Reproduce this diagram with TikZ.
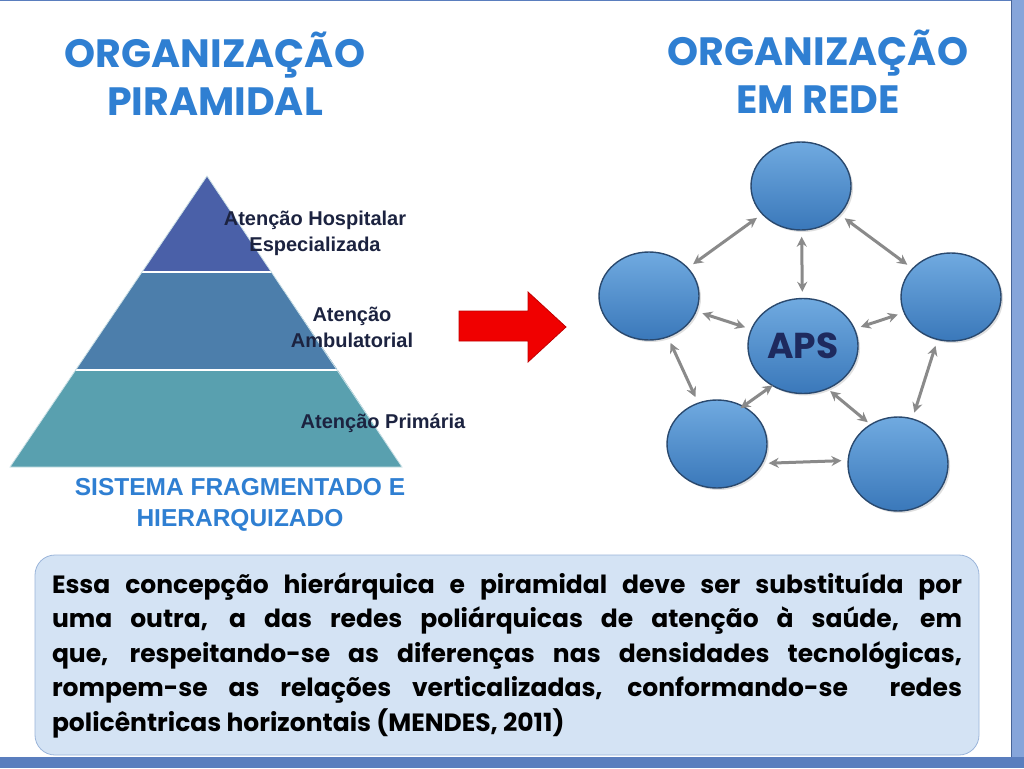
\documentclass[tikz,border=0pt]{standalone}
\usepackage{fontspec}
\setmainfont{Liberation Sans}
\newfontfamily\gothic{Poppins}
\usetikzlibrary{arrows.meta,shapes.geometric,shadows}
\definecolor{titleblue}{HTML}{2F7FD2}
\definecolor{pyrA}{HTML}{4A60A8}
\definecolor{pyrB}{HTML}{4C7EAB}
\definecolor{pyrC}{HTML}{59A0AF}
\definecolor{lblcol}{HTML}{1C2340}
\definecolor{ballTop}{HTML}{70AAE0}
\definecolor{ballBot}{HTML}{3A78BA}
\definecolor{ballEdge}{HTML}{2A496E}
\definecolor{netgray}{HTML}{8A8A8A}
\definecolor{boxfill}{HTML}{D4E3F4}
\definecolor{boxedge}{HTML}{9BB5DA}
\definecolor{apscol}{HTML}{1E2A5E}
\definecolor{stripR}{HTML}{86A5DA}
\definecolor{stripB}{HTML}{5A7EBE}
\definecolor{arrred}{HTML}{F00000}
\definecolor{arredge}{HTML}{C00000}
\tikzset{
  title/.style={font=\gothic\bfseries\fontsize{39.5}{48}\selectfont, text=titleblue, align=center},
  lvl/.style={font=\bfseries\fontsize{20}{26}\selectfont, text=lblcol, align=center, inner sep=0pt},
  ball/.style={ellipse, minimum width=100pt, minimum height=88pt, top color=ballTop, bottom color=ballBot,
     draw=ballEdge, line width=1.4pt, drop shadow={opacity=0.25, shadow xshift=2pt, shadow yshift=-2pt}},
  net/.style={draw=netgray, line width=3pt, {Stealth[length=10pt,width=10pt]}-{Stealth[length=10pt,width=10pt]}, shorten <=6pt, shorten >=6pt},
  band/.style={draw=white, line width=1.2pt},
  quotebox/.style={draw=boxedge, fill=boxfill, rounded corners=20pt, line width=0.8pt,
     minimum width=944pt, minimum height=200pt, text width=910pt, align=justify,
     font=\gothic\bfseries\fontsize{25}{34.5}\selectfont, text=black}
}
\begin{document}
\begin{tikzpicture}[x=1pt,y=-1pt]
\useasboundingbox (0,0) rectangle (1024,768);
\fill[white] (0,0) rectangle (1024,768);
% slide frame
\fill[stripR] (1011,0) rectangle (1024,768);
\draw[color=stripB!80!black, line width=1pt] (1011,0) -- (1011,757);
\fill[stripB] (0,757) rectangle (1024,768);
\draw[color=stripB, line width=1.5pt] (0,0.75) -- (1011,0.75);

% titles
\node[title] (tleft) at (215,74) {ORGANIZAÇÃO\\PIRAMIDAL};
\node[title] (tright) at (818,72) {ORGANIZAÇÃO\\EM REDE};

% pyramid
\fill[pyrC] (75.6,370) -- (337.7,370) -- (402,467) -- (10,467) -- cycle;
\fill[pyrB] (142,272) -- (271.3,272) -- (337.7,370) -- (75.6,370) -- cycle;
\fill[pyrA] (207,176) -- (271.3,272) -- (142,272) -- cycle;
\draw[band] (142,272) -- (271.3,272);
\draw[band] (75.6,370) -- (337.7,370);
\draw[color=white!70!pyrC, line width=0.8pt] (207,176) -- (402,467) -- (10,467) -- cycle;

\node[lvl] (l1) at (315,233) {Atenção Hospitalar\\Especializada};
\node[lvl] (l2) at (352,327) {Atenção\\Ambulatorial};
\node[lvl] (l3) at (383,423) {Atenção Primária};

\node[font=\bfseries\fontsize{24.5}{31}\selectfont, text=titleblue, align=center] (sys) at (240,505)
  {SISTEMA FRAGMENTADO E\\HIERARQUIZADO};

% red arrow
\draw[fill=arrred, draw=arredge, line width=0.8pt]
  (459,311) -- (528,311) -- (528,292) -- (566,327) -- (528,362) -- (528,341) -- (459,341) -- cycle;

% network
\node[ball] (top) at (801,186) {};
\node[ball] (left) at (649,296) {};
\node[ball] (right) at (951,297) {};
\node[ball, minimum width=99pt, minimum height=95pt, font=\gothic\bfseries\fontsize{36}{36}\selectfont, text=apscol] (aps) at (803,346) {APS};
\node[ball] (bl) at (717,444) {};
\node[ball, minimum height=94pt] (br) at (898,464) {};

\draw[net] (top) -- (aps);
\draw[net] (top) -- (left);
\draw[net] (top) -- (right);
\draw[net] (left) -- (aps);
\draw[net] (right) -- (aps);
\draw[net] (left) -- (bl);
\draw[net] (right) -- (br);
\draw[net, shorten <=-1pt, shorten >=-4pt] (aps.232) -- (bl.55);
\draw[net, shorten <=3pt, shorten >=3pt] (aps.300) -- (br.125);
\draw[net] (bl.-23) -- (br.176);

% quote box
\node[quotebox] (quote) at (507,655) {Essa concepção hierárquica e piramidal deve ser substituída por\linebreak
uma outra, a das redes poliárquicas de atenção à saúde, em\linebreak
que, respeitando-se as diferenças nas densidades tecnológicas,\linebreak
rompem-se as relações verticalizadas, conformando-se~ redes\linebreak
policêntricas horizontais (MENDES, 2011)};
\end{tikzpicture}
\end{document}
